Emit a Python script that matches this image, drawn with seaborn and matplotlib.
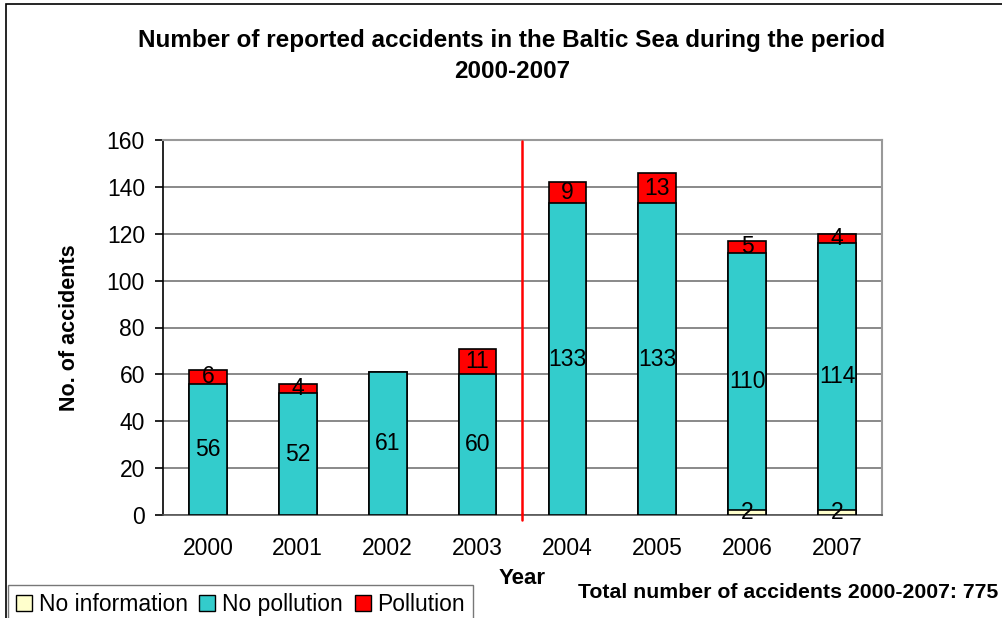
#!/usr/bin/env python

import numpy as np
import pandas as pd
import seaborn as sns
from matplotlib import pyplot as plt
from matplotlib.patches import Rectangle, Patch

years = ["2000", "2001", "2002", "2003", "2004", "2005", "2006", "2007"]
no_information = [0, 0, 0, 0, 0, 0, 2, 2]
no_pollution = [56, 52, 61, 60, 133, 133, 110, 114]
pollution = [6, 4, 0, 11, 9, 13, 5, 4]

teal = "#33CCCC"
red = "#FF0000"
cream = "#FFFFCC"

df = pd.DataFrame({"year": years, "info": no_information,
                   "nopol": no_pollution, "pol": pollution})
df["lower"] = df["info"] + df["nopol"]
df["total"] = df["lower"] + df["pol"]

sns.set_style("white")
plt.rcParams["font.family"] = ["Liberation Sans", "DejaVu Sans"]
plt.rcParams["text.color"] = "black"
plt.rcParams["axes.labelcolor"] = "black"
plt.rcParams["xtick.color"] = "black"
plt.rcParams["ytick.color"] = "black"

fig = plt.figure(figsize=(10.03, 6.18), dpi=100)
ax = fig.add_axes([163 / 1003, 103 / 618, 719 / 1003, 375 / 618])

# stacked bars by overlaying cumulative totals
sns.barplot(data=df, x="year", y="total", color=red, saturation=1, width=0.42,
            edgecolor="black", linewidth=1.2, ax=ax, zorder=3)
sns.barplot(data=df, x="year", y="lower", color=teal, saturation=1, width=0.42,
            edgecolor="black", linewidth=1.2, ax=ax, zorder=3)
sns.barplot(data=df[df["info"] > 0], x="year", y="info", color=cream, saturation=1,
            width=0.42, edgecolor="black", linewidth=1.2, ax=ax, zorder=3,
            order=years)

# segment labels
for i, row in df.iterrows():
    if row["info"] > 0:
        ax.text(i, row["info"] / 2, str(row["info"]), ha="center", va="center",
                fontsize=16.5, zorder=5)
    if row["nopol"] > 0:
        ax.text(i, row["info"] + row["nopol"] / 2, str(row["nopol"]), ha="center",
                va="center", fontsize=16.5, zorder=5)
    if row["pol"] > 0:
        ax.text(i, row["lower"] + row["pol"] / 2, str(row["pol"]), ha="center",
                va="center", fontsize=16.5, zorder=5)

ax.set_ylim(0, 160)
ax.set_xlim(-0.5, len(years) - 0.5)
ax.set_yticks(range(0, 161, 20))
ax.yaxis.grid(True, color="#808080", linewidth=1.3, zorder=0)
ax.set_axisbelow(True)

ax.set_xticks(np.arange(-0.5, len(years), 1.0), minor=True)
ax.tick_params(axis="x", which="major", length=0, pad=16, labelsize=16.5)
ax.tick_params(axis="x", which="minor", length=6, width=1.2, color="#555555",
               direction="out")
ax.tick_params(axis="y", length=6, width=1.2, direction="out", pad=7,
               labelsize=16.5, left=True)

for s in ["top", "right"]:
    ax.spines[s].set_color("#999999")
    ax.spines[s].set_linewidth(1.5)
ax.spines["left"].set_color("black")
ax.spines["left"].set_linewidth(1.2)
ax.spines["bottom"].set_color("#555555")
ax.spines["bottom"].set_linewidth(1.2)

ax.set_xlabel("")
ax.set_ylabel("No. of accidents", fontsize=15.5, fontweight="bold")
ax.yaxis.set_label_coords(-0.115, 0.5)

# divider between 2003 and 2004
ax.plot([3.5, 3.5], [0.5, 159.5], color=red, linewidth=1.8, zorder=4)
ax.plot([3.5, 3.5], [-2, 0.5], color=red, linewidth=1.8, zorder=4, clip_on=False)

fig.text(512 / 1003, 1 - 40 / 618,
         "Number of reported accidents in the Baltic Sea during the period",
         ha="center", va="center", fontsize=17.5, fontweight="bold")
fig.text(512 / 1003, 1 - 72 / 618, "2000-2007", ha="center", va="center",
         fontsize=17.5, fontweight="bold")
fig.text(522 / 1003, 1 - 578 / 618, "Year", ha="center", va="center",
         fontsize=16, fontweight="bold")
fig.text(998 / 1003, 1 - 593 / 618, "Total number of accidents 2000-2007: 775",
         ha="right", va="center", fontsize=15.3, fontweight="bold")

handles = [Patch(facecolor=cream, edgecolor="black", label="No information"),
           Patch(facecolor=teal, edgecolor="black", label="No pollution"),
           Patch(facecolor=red, edgecolor="black", label="Pollution")]
leg = fig.legend(handles=handles, loc="lower left", ncol=3,
                 bbox_to_anchor=(8 / 1003, -6 / 618), fontsize=16.5,
                 frameon=True, fancybox=False, handlelength=0.7,
                 handleheight=0.7, handletextpad=0.3, columnspacing=0.5,
                 borderpad=0.35, borderaxespad=0)
leg.get_frame().set_edgecolor("#555555")
leg.get_frame().set_linewidth(1.0)

fig.patches.append(Rectangle((6 / 1003, -0.1), 1.2, 1 - 4 / 618 + 0.1,
                             transform=fig.transFigure, fill=False,
                             edgecolor="black", linewidth=1.2))

plt.savefig("out.png", dpi=100)
plt.close(fig)
